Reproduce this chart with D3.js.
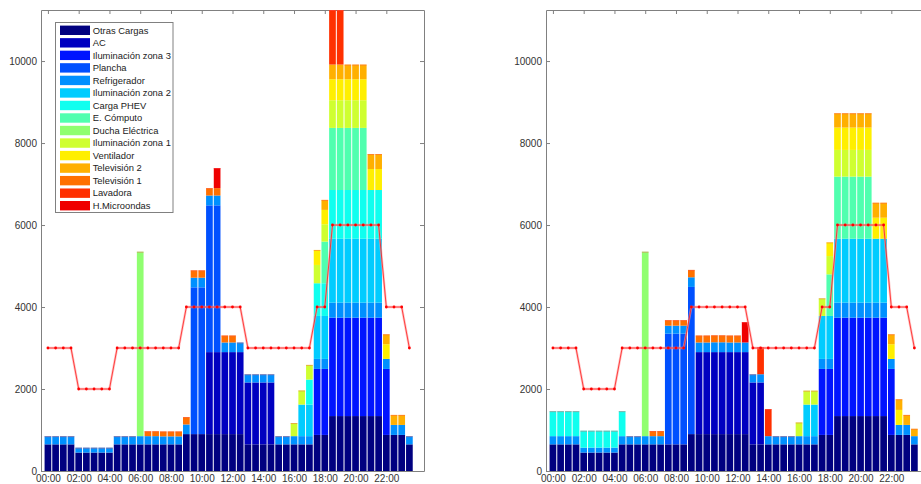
<!DOCTYPE html>
<html>
<head>
<meta charset="utf-8">
<script src="https://cdn.jsdelivr.net/npm/d3@7"></script>
<style>
  body { margin: 0; background: #fff; }
  svg { display: block; }
  .axis text { fill: #333; font-size: 10px; font-family: "Liberation Sans", Arial, sans-serif; }
  .axis path, .axis line { stroke: #808080; }
  .legend text { fill: #222; font-size: 9.4px; font-family: "Liberation Sans", Arial, sans-serif; }
</style>
</head>
<body>
<svg id="chart"></svg>
<script>
// half-hour slots, 00:00 .. 23:30 (hour of day)
const slotHours = d3.range(48).map((i) => i / 2);

const tickHours = [0, 2, 4, 6, 8, 10, 12, 14, 16, 18, 20, 22];
const tickLabels = ["00:00", "02:00", "04:00", "06:00", "08:00", "10:00",
  "12:00", "14:00", "16:00", "18:00", "20:00", "22:00"];
const yTicks = [0, 2000, 4000, 6000, 8000, 10000];

const seriesNames = ["Otras Cargas", "AC", "Iluminación zona 3", "Plancha", "Refrigerador",
  "Iluminación zona 2", "Carga PHEV", "E. Cómputo", "Ducha Eléctrica", "Iluminación zona 1",
  "Ventilador", "Televisión 2", "Televisión 1", "Lavadora", "H.Microondas"];
const seriesColors = ["#000080", "#0000c0", "#0014ff", "#0050ff", "#0090ff",
  "#00ccff", "#10ffef", "#50ffaf", "#90ff70", "#cfff30",
  "#ffef00", "#ffb000", "#ff7000", "#ff3000", "#ef0000"];

// limit line (same on both panels)
const limitLine = [
  3000, 3000, 3000, 3000, 2000, 2000, 2000, 2000, 2000, 3000, 3000, 3000,
  3000, 3000, 3000, 3000, 3000, 3000, 4000, 4000, 4000, 4000, 4000, 4000,
  4000, 4000, 3000, 3000, 3000, 3000, 3000, 3000, 3000, 3000, 3000, 4000,
  4000, 6000, 6000, 6000, 6000, 6000, 6000, 6000, 4000, 4000, 4000, 3000];

// loads shared by both panels
const otrasCargas = [
  650, 650, 650, 650, 450, 450, 450, 450, 450, 650, 650, 650,
  650, 650, 650, 650, 650, 650, 900, 900, 900, 900, 900, 900,
  900, 900, 650, 650, 650, 650, 650, 650, 650, 650, 650, 880,
  880, 1340, 1340, 1340, 1340, 1340, 1340, 1340, 880, 880, 880, 650];
const iluminacion3 = [
  0, 0, 0, 0, 0, 0, 0, 0, 0, 0, 0, 0,
  0, 0, 0, 0, 0, 0, 0, 0, 0, 0, 0, 0,
  0, 0, 0, 0, 0, 0, 0, 0, 0, 0, 0, 1610,
  1610, 2400, 2400, 2400, 2400, 2400, 2400, 2400, 1610, 0, 0, 0];
const refrigerador = [
  200, 200, 200, 200, 120, 120, 120, 120, 120, 200, 200, 200,
  200, 200, 200, 195, 195, 195, 235, 235, 235, 240, 240, 235,
  235, 235, 200, 200, 200, 200, 200, 200, 200, 200, 200, 244,
  244, 366, 366, 366, 366, 366, 366, 366, 244, 244, 244, 200];
const iluminacion2 = [
  0, 0, 0, 0, 0, 0, 0, 0, 0, 0, 0, 0,
  0, 0, 0, 0, 0, 0, 0, 0, 0, 0, 0, 0,
  0, 0, 0, 0, 0, 0, 0, 0, 0, 770, 770, 1048,
  1048, 1560, 1560, 1560, 1560, 1560, 1560, 1560, 0, 0, 0, 0];
const eComputo = [
  0, 0, 0, 0, 0, 0, 0, 0, 0, 0, 0, 0,
  0, 0, 0, 0, 0, 0, 0, 0, 0, 0, 0, 0,
  0, 0, 0, 0, 0, 0, 0, 0, 0, 0, 0, 0,
  1015, 1515, 1515, 1515, 1515, 1515, 0, 0, 0, 0, 0, 0];
const duchaElectrica = [
  0, 0, 0, 0, 0, 0, 0, 0, 0, 0, 0, 0,
  4500, 0, 0, 0, 0, 0, 0, 0, 0, 0, 0, 0,
  0, 0, 0, 0, 0, 0, 0, 0, 0, 0, 0, 0,
  0, 0, 0, 0, 0, 0, 0, 0, 0, 0, 0, 0];

// left panel
const acA = [
  0, 0, 0, 0, 0, 0, 0, 0, 0, 0, 0, 0,
  0, 0, 0, 0, 0, 0, 0, 0, 0, 2000, 2000, 2000,
  2000, 2000, 1510, 1510, 1510, 1510, 0, 0, 0, 0, 0, 0,
  0, 0, 0, 0, 0, 0, 0, 0, 0, 0, 0, 0];
const planchaA = [
  0, 0, 0, 0, 0, 0, 0, 0, 0, 0, 0, 0,
  0, 0, 0, 0, 0, 0, 0, 3580, 3580, 3580, 3580, 0,
  0, 0, 0, 0, 0, 0, 0, 0, 0, 0, 0, 0,
  0, 0, 0, 0, 0, 0, 0, 0, 0, 0, 0, 0];
const phevA = [
  0, 0, 0, 0, 0, 0, 0, 0, 0, 0, 0, 0,
  0, 0, 0, 0, 0, 0, 0, 0, 0, 0, 0, 0,
  0, 0, 0, 0, 0, 0, 0, 0, 0, 0, 610, 798,
  798, 1188, 1188, 1188, 1188, 1188, 1188, 1188, 0, 0, 0, 0];
const iluminacion1A = [
  0, 0, 0, 0, 0, 0, 0, 0, 0, 0, 0, 0,
  0, 0, 0, 0, 0, 0, 0, 0, 0, 0, 0, 0,
  0, 0, 0, 0, 0, 0, 0, 0, 320, 345, 358, 446,
  424, 675, 675, 675, 675, 675, 0, 0, 0, 0, 0, 0];
const ventiladorA = [
  0, 0, 0, 0, 0, 0, 0, 0, 0, 0, 0, 0,
  0, 0, 0, 0, 0, 0, 0, 0, 0, 0, 0, 0,
  0, 0, 0, 0, 0, 0, 0, 0, 0, 0, 0, 366,
  350, 512, 512, 512, 512, 512, 512, 512, 358, 0, 0, 0];
const television2A = [
  0, 0, 0, 0, 0, 0, 0, 0, 0, 0, 0, 0,
  0, 0, 0, 0, 0, 0, 0, 0, 0, 0, 0, 0,
  0, 0, 0, 0, 0, 0, 0, 0, 0, 0, 0, 0,
  244, 358, 358, 358, 358, 358, 366, 366, 243, 244, 244, 0];
const television1A = [
  0, 0, 0, 0, 0, 0, 0, 0, 0, 0, 0, 0,
  0, 120, 120, 120, 120, 120, 180, 180, 180, 180, 180, 170,
  170, 0, 0, 0, 0, 0, 0, 0, 0, 0, 0, 0,
  0, 0, 0, 0, 0, 0, 0, 0, 0, 0, 0, 0];
const lavadoraA = [
  0, 0, 0, 0, 0, 0, 0, 0, 0, 0, 0, 0,
  0, 0, 0, 0, 0, 0, 0, 0, 0, 0, 0, 0,
  0, 0, 0, 0, 0, 0, 0, 0, 0, 0, 0, 0,
  0, 1330, 1330, 0, 0, 0, 0, 0, 0, 0, 0, 0];
const microondasA = [
  0, 0, 0, 0, 0, 0, 0, 0, 0, 0, 0, 0,
  0, 0, 0, 0, 0, 0, 0, 0, 0, 0, 490, 0,
  0, 0, 0, 0, 0, 0, 0, 0, 0, 0, 0, 0,
  0, 0, 0, 0, 0, 0, 0, 0, 0, 0, 0, 0];

// right panel
const acB = [
  0, 0, 0, 0, 0, 0, 0, 0, 0, 0, 0, 0,
  0, 0, 0, 0, 0, 0, 0, 2000, 2000, 2000, 2000, 2000,
  2000, 2000, 1510, 1510, 0, 0, 0, 0, 0, 0, 0, 0,
  0, 0, 0, 0, 0, 0, 0, 0, 0, 0, 0, 0];
const planchaB = [
  0, 0, 0, 0, 0, 0, 0, 0, 0, 0, 0, 0,
  0, 0, 0, 2700, 2700, 2700, 3590, 0, 0, 0, 0, 0,
  0, 0, 0, 0, 0, 0, 0, 0, 0, 0, 0, 0,
  0, 0, 0, 0, 0, 0, 0, 0, 0, 0, 0, 0];
const phevB = [
  610, 610, 610, 610, 414, 414, 414, 414, 414, 610, 0, 0,
  0, 0, 0, 0, 0, 0, 0, 0, 0, 0, 0, 0,
  0, 0, 0, 0, 0, 0, 0, 0, 0, 0, 0, 0,
  0, 0, 0, 0, 0, 0, 0, 0, 0, 0, 0, 0];
const iluminacion1B = [
  0, 0, 0, 0, 0, 0, 0, 0, 0, 0, 0, 0,
  0, 0, 0, 0, 0, 0, 0, 0, 0, 0, 0, 0,
  0, 0, 0, 0, 0, 0, 0, 0, 334, 340, 340, 430,
  446, 651, 651, 651, 651, 651, 0, 0, 0, 0, 0, 0];
const ventiladorB = [
  0, 0, 0, 0, 0, 0, 0, 0, 0, 0, 0, 0,
  0, 0, 0, 0, 0, 0, 0, 0, 0, 0, 0, 0,
  0, 0, 0, 0, 0, 0, 0, 0, 0, 0, 0, 0,
  334, 545, 545, 545, 545, 545, 512, 512, 358, 366, 0, 0];
const television2B = [
  0, 0, 0, 0, 0, 0, 0, 0, 0, 0, 0, 0,
  0, 0, 0, 0, 0, 0, 0, 0, 0, 0, 0, 0,
  0, 0, 0, 0, 0, 0, 0, 0, 0, 0, 0, 0,
  0, 350, 350, 350, 350, 350, 366, 366, 243, 260, 244, 180];
const television1B = [
  0, 0, 0, 0, 0, 0, 0, 0, 0, 0, 0, 0,
  0, 125, 125, 135, 135, 135, 180, 170, 170, 170, 170, 170,
  170, 0, 0, 0, 0, 0, 0, 0, 0, 0, 0, 0,
  0, 0, 0, 0, 0, 0, 0, 0, 0, 0, 0, 0];
const lavadoraB = [
  0, 0, 0, 0, 0, 0, 0, 0, 0, 0, 0, 0,
  0, 0, 0, 0, 0, 0, 0, 0, 0, 0, 0, 0,
  0, 0, 0, 660, 660, 0, 0, 0, 0, 0, 0, 0,
  0, 0, 0, 0, 0, 0, 0, 0, 0, 0, 0, 0];
const microondasB = [
  0, 0, 0, 0, 0, 0, 0, 0, 0, 0, 0, 0,
  0, 0, 0, 0, 0, 0, 0, 0, 0, 0, 0, 0,
  0, 497, 0, 0, 0, 0, 0, 0, 0, 0, 0, 0,
  0, 0, 0, 0, 0, 0, 0, 0, 0, 0, 0, 0];

const panelA = [otrasCargas, acA, iluminacion3, planchaA, refrigerador, iluminacion2, phevA,
  eComputo, duchaElectrica, iluminacion1A, ventiladorA, television2A, television1A, lavadoraA, microondasA];
const panelB = [otrasCargas, acB, iluminacion3, planchaB, refrigerador, iluminacion2, phevB,
  eComputo, duchaElectrica, iluminacion1B, ventiladorB, television2B, television1B, lavadoraB, microondasB];

const width = 921;
const height = 484;
const plot = { top: 10, bottom: 471, width: 383 };

const svg = d3.select("#chart").attr("width", width).attr("height", height);

const yScale = d3.scaleLinear().domain([0, 11245]).range([plot.bottom, plot.top]);

function drawPanel(left, columns, idx) {
  const xScale = d3.scaleLinear().domain([-0.45, 24.45]).range([left, left + plot.width]);
  const slotW = xScale(0.5) - xScale(0);
  const g = svg.append("g");

  // axes first, bars are drawn over the inward ticks
  g.append("g").attr("class", "axis")
    .attr("transform", `translate(0,${plot.bottom})`)
    .call(d3.axisBottom(xScale).tickValues(tickHours).tickFormat((d, i) => tickLabels[i])
      .tickSizeInner(-4).tickSizeOuter(0).tickPadding(4));
  g.append("g").attr("class", "axis")
    .attr("transform", `translate(0,${plot.top})`)
    .call(d3.axisTop(xScale).tickValues(tickHours).tickFormat("")
      .tickSizeInner(-4).tickSizeOuter(0));
  g.append("g").attr("class", "axis")
    .attr("transform", `translate(${left},0)`)
    .call(d3.axisLeft(yScale).tickValues(yTicks).tickFormat(d3.format("d"))
      .tickSizeInner(-4).tickSizeOuter(0).tickPadding(4));
  g.append("g").attr("class", "axis")
    .attr("transform", `translate(${left + plot.width},0)`)
    .call(d3.axisRight(yScale).tickValues(yTicks).tickFormat("")
      .tickSizeInner(-4).tickSizeOuter(0));

  const clipId = "clip" + idx;
  g.append("clipPath").attr("id", clipId).append("rect")
    .attr("x", left).attr("y", plot.top)
    .attr("width", plot.width).attr("height", plot.bottom - plot.top);

  const rows = slotHours.map((h, i) => {
    const row = { hour: h };
    seriesNames.forEach((n, k) => (row[n] = columns[k][i]));
    return row;
  });
  const stacked = d3.stack().keys(seriesNames)(rows);

  const bars = g.append("g").attr("clip-path", `url(#${clipId})`);
  bars.selectAll("g")
    .data(stacked)
    .join("g")
    .attr("fill", (d, i) => seriesColors[i])
    .selectAll("rect")
    .data((d) => d.filter((p) => p[1] > p[0]))
    .join("rect")
    .attr("x", (d) => xScale(d.data.hour) - slotW / 2 + 0.5)
    .attr("width", slotW - 1)
    .attr("y", (d) => yScale(d[1]))
    .attr("height", (d) => yScale(d[0]) - yScale(d[1]));

  // thin reddish edge on top of every bar
  const top = stacked[stacked.length - 1];
  bars.append("g").selectAll("line")
    .data(top)
    .join("line")
    .attr("x1", (d) => xScale(d.data.hour) - slotW / 2 + 0.5)
    .attr("x2", (d) => xScale(d.data.hour) + slotW / 2 - 0.5)
    .attr("y1", (d) => yScale(d[1]) + 0.5)
    .attr("y2", (d) => yScale(d[1]) + 0.5)
    .attr("stroke", "#ff5050")
    .attr("stroke-opacity", 0.45);

  // limit line
  const line = d3.line().x((d, i) => xScale(slotHours[i])).y((d) => yScale(d));
  g.append("path").datum(limitLine).attr("d", line)
    .attr("fill", "none").attr("stroke", "#ff9c9c").attr("stroke-width", 2.4).attr("stroke-opacity", 0.6);
  g.append("path").datum(limitLine).attr("d", line)
    .attr("fill", "none").attr("stroke", "#ff1a1a").attr("stroke-width", 0.8);
  g.append("g").selectAll("circle")
    .data(limitLine)
    .join("circle")
    .attr("cx", (d, i) => xScale(slotHours[i]))
    .attr("cy", (d) => yScale(d))
    .attr("r", 1.4)
    .attr("fill", "#ff0000");
}

drawPanel(41, panelA, 0);
drawPanel(546, panelB, 1);

// legend on the left panel
const legend = svg.append("g").attr("class", "legend");
legend.append("rect")
  .attr("x", 55.5).attr("y", 22.5).attr("width", 117.5).attr("height", 190)
  .attr("fill", "#fff").attr("stroke", "#808080");
const rowY = d3.scaleLinear().domain([0, 14]).range([30.3, 205.7]);
const item = legend.selectAll("g.item")
  .data(seriesNames)
  .join("g")
  .attr("class", "item")
  .attr("transform", (d, i) => `translate(0,${rowY(i)})`);
item.append("rect")
  .attr("x", 60).attr("y", -4.7).attr("width", 30).attr("height", 9.4)
  .attr("fill", (d, i) => seriesColors[i]);
item.append("text")
  .attr("x", 92.7).attr("y", 0).attr("dy", "0.35em")
  .text((d) => d);
</script>
</body>
</html>
